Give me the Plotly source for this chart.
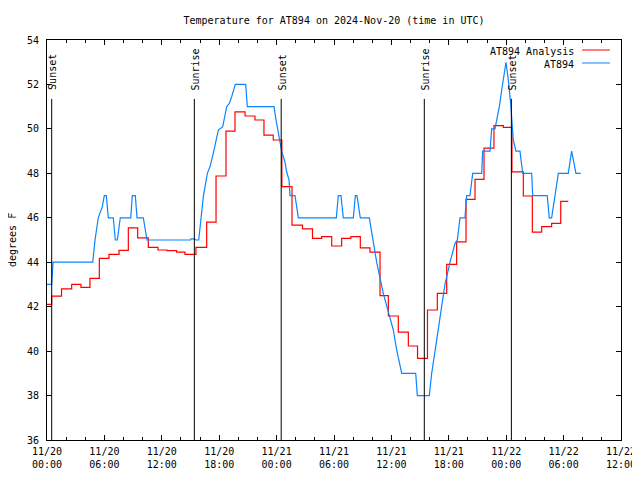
import pandas as pd
import plotly.graph_objects as go

BASE = pd.Timestamp("2024-11-20 00:00")

# AT894 observations: hours after 11/20 00:00 UTC, degrees F
obs_hours = [0.0, 0.49, 0.63, 4.78, 5.02, 5.36, 5.78, 5.99, 6.2, 6.41, 6.93, 7.14, 7.35, 7.66,
             8.75, 8.92, 9.23, 9.41, 10.07, 10.45, 15.0, 15.05, 15.37, 15.57, 15.86, 16.07,
             16.34, 16.76, 17.04, 17.38, 17.91, 18.37, 18.78, 19.06, 19.31, 19.68, 20.77,
             20.94, 23.73, 23.94, 24.18, 24.36, 24.53, 24.88, 25.05, 25.3, 25.4, 25.92, 26.1,
             26.27, 30.24, 30.45, 30.73, 30.97, 32.02, 32.23, 32.4, 32.75, 33.69, 34.08,
             34.46, 35.15, 35.51, 35.85, 36.2, 36.55, 37.08, 38.54, 38.71, 39.96, 40.21,
             40.56, 40.9, 41.26, 41.6, 42.13, 42.65, 42.89, 43.17, 43.69, 43.87, 44.21,
             44.5, 45.44, 45.54, 46.31, 46.48, 46.83, 47.28, 47.53, 47.98, 48.22, 48.47,
             48.74, 49.02, 49.44, 49.72, 50.66, 50.77, 52.29, 52.5, 52.75, 53.1, 53.45,
             54.49, 54.84, 55.29, 55.79]
obs_temp = [43.0, 43.0, 44.0, 44.0, 45.0, 46.0, 46.5, 47.0, 47.0, 46.0, 46.0, 45.0, 45.0, 46.0,
            46.0, 47.0, 47.0, 46.0, 46.0, 45.0, 45.0, 45.05, 45.05, 45.0, 45.0, 45.8,
            46.95, 48.0, 48.3, 48.9, 49.95, 50.1, 51.0, 51.15, 51.45, 52.0, 52.0,
            51.0, 51.0, 50.4, 49.9, 49.4, 49.0, 48.5, 48.07, 47.7, 47.0, 47.0, 46.5,
            46.0, 46.0, 47.0, 47.0, 46.0, 46.0, 47.0, 47.0, 46.0, 46.0, 45.0,
            44.0, 42.6, 42.0, 41.4, 40.95, 40.05, 39.0, 39.0, 38.0, 38.0, 39.0,
            40.0, 41.0, 42.0, 43.0, 44.0, 44.85, 45.0, 46.0, 46.0, 47.0, 47.0,
            48.0, 48.0, 49.0, 49.0, 50.0, 50.0, 51.0, 51.75, 53.0, 52.2, 51.15,
            49.5, 49.0, 49.0, 48.0, 48.0, 47.0, 47.0, 46.0, 46.0, 47.0, 48.0,
            48.0, 49.0, 48.0, 48.0]

# AT894 Analysis (hourly steps): hours after 11/20 00:00 UTC, degrees F
ana_hours = [0.0, 0.49, 1.52, 2.58, 3.55, 4.49, 5.47, 6.48, 7.53, 8.5, 9.48, 10.59, 11.6,
             12.54, 13.54, 14.42, 15.57, 16.69, 17.67, 18.71, 19.65, 20.7, 21.74, 22.68,
             23.65, 24.55, 25.61, 26.71, 27.75, 28.71, 29.76, 30.8, 31.76, 32.75, 33.76,
             34.81, 35.68, 36.72, 37.77, 38.73, 39.77, 40.8, 41.78, 42.82, 43.8, 44.74,
             45.68, 46.72, 47.7, 48.6, 49.79, 50.73, 51.71, 52.75, 53.7, 54.49]
ana_temp = [42.1, 42.47, 42.8, 43.0, 42.87, 43.27, 44.17, 44.35, 44.53, 45.55, 45.1, 44.67, 44.55,
            44.52, 44.45, 44.35, 44.67, 45.8, 47.88, 49.9, 50.77, 50.58, 50.4, 49.72,
            49.5, 47.4, 45.67, 45.5, 45.07, 45.15, 44.73, 45.07, 45.15, 44.65, 44.45,
            42.5, 41.58, 40.85, 40.23, 39.67, 41.85, 42.6, 43.9, 44.92, 46.83, 47.73,
            49.13, 50.15, 50.07, 48.07, 46.98, 45.35, 45.6, 45.75, 46.74, 46.74]

# Sun events: hours after 11/20 00:00 UTC
sun_hours = [0.49, 15.4, 24.48, 39.44, 48.54]
sun_labels = ["Sunset", "Sunrise", "Sunset", "Sunrise", "Sunset"]

y_ticks = [36, 38, 40, 42, 44, 46, 48, 50, 52, 54]

RED = "#ff0000"
BLUE = "#0a84ff"
FONT = "DejaVu Sans Mono"

# the page body offsets the figure by 8px; margins compensate so the plot box
# lands at screen x 47..621, y 40..440
OFF = 8
L, R, T, B = 47 - OFF, 27, 40 - OFF, 48
PW, PH = 640 - L - R, 480 - T - B


def to_time(hours):
    return [BASE + pd.Timedelta(hours=h) for h in hours]


fig = go.Figure()
fig.add_trace(go.Scatter(x=to_time(ana_hours), y=ana_temp, mode="lines",
                         line=dict(color=RED, width=1.2, shape="hv"),
                         name="AT894 Analysis", showlegend=False))
fig.add_trace(go.Scatter(x=to_time(obs_hours), y=obs_temp, mode="lines",
                         line=dict(color=BLUE, width=1.2),
                         name="AT894", showlegend=False))

for t, lab in zip(to_time(sun_hours), sun_labels):
    fig.add_shape(type="line", x0=t, x1=t, y0=36, y1=51.35, xref="x", yref="y",
                  line=dict(color="black", width=1))
    fig.add_annotation(x=t, y=51.65, xref="x", yref="y", text=lab, textangle=-90,
                       showarrow=False, xanchor="center", yanchor="bottom",
                       font=dict(family=FONT, size=10, color="black"), xshift=1)

# legend drawn gnuplot-style (text first, sample line after it)
legend_items = [("AT894 Analysis", RED), ("AT894", BLUE)]
for i, (name, col) in enumerate(legend_items):
    ypx = 50 + 13 * i
    yp = 1 - (ypx - 40) / PH
    fig.add_annotation(x=(576 - 47) / PW, y=yp, xref="paper", yref="paper", text=name,
                       showarrow=False, xanchor="right", yanchor="middle",
                       font=dict(family=FONT, size=10, color="black"), yshift=-1)
    fig.add_shape(type="line", xref="paper", yref="paper",
                  x0=(582 - 47) / PW, x1=(610 - 47) / PW, y0=yp, y1=yp,
                  line=dict(color=col, width=1))

# y axis title placed like gnuplot's
fig.add_annotation(x=(12 - 47) / PW, y=0.5, xref="paper", yref="paper", text="degrees F",
                   textangle=-90, showarrow=False, xanchor="center", yanchor="middle",
                   font=dict(family=FONT, size=10, color="black"))

fig.update_layout(
    width=640, height=480,
    margin=dict(l=L, r=R, t=T, b=B),
    paper_bgcolor="white", plot_bgcolor="white",
    font=dict(family=FONT, size=10, color="black"),
    title=dict(text="Temperature for AT894 on 2024-Nov-20 (time in UTC)",
               x=0.5, xref="paper", xanchor="center", y=1 - (20 - OFF) / 480, yanchor="middle",
               font=dict(family=FONT, size=10, color="black")),
)

fig.update_xaxes(
    type="date", automargin=False,
    range=[BASE, BASE + pd.Timedelta(hours=60)],
    tick0=BASE, dtick=6 * 3600 * 1000,
    tickformat="%m/%d<br>%H:%M",
    ticks="inside", ticklen=5, tickcolor="black",
    minor=dict(dtick=2 * 3600 * 1000, ticks="inside", ticklen=3, tickcolor="black"),
    showline=True, linecolor="black", linewidth=1, mirror="allticks",
    showgrid=False, zeroline=False, ticklabelstandoff=2,
    tickfont=dict(family=FONT, size=10, color="black"),
)
fig.update_yaxes(
    automargin=False,
    range=[36, 54], tickvals=y_ticks,
    ticks="inside", ticklen=5, tickcolor="black",
    showline=True, linecolor="black", linewidth=1, mirror="allticks",
    showgrid=False, zeroline=False, ticklabelstandoff=5,
    tickfont=dict(family=FONT, size=10, color="black"),
)

fig.write_html("out.html")
